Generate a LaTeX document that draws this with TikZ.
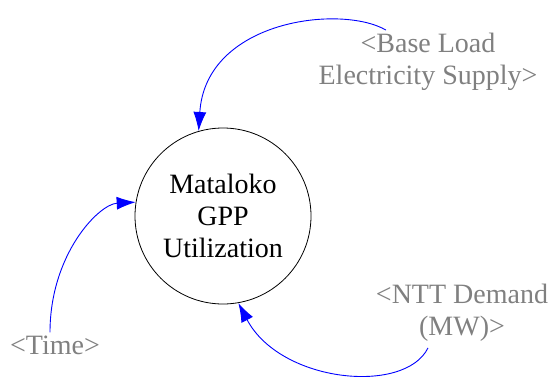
\documentclass[tikz,border=0pt]{standalone}
\usepackage{fontspec}
\setmainfont{Liberation Serif}
\usetikzlibrary{arrows.meta}
\definecolor{shadowgray}{RGB}{128,128,128}
\begin{document}
\begin{tikzpicture}[x=1pt,y=-1pt,
    stock/.style={draw,circle,line width=0.8pt,minimum size=176pt,inner sep=0pt,align=center},
    shadow/.style={text=shadowgray,align=center,inner sep=0pt},
    link/.style={blue,line width=0.9pt,-{Latex[length=19pt,width=13pt]}},
    font=\fontsize{28}{32}\selectfont]
    \useasboundingbox (0,0) rectangle (548,380);
    \node[stock] (util) at (223,216) {Mataloko\\GPP\\Utilization};
    \node[shadow] (base) at (428,62) {<Base Load\\Electricity Supply>};
    \node[shadow] (time) at (55,345) {<Time>};
    \node[shadow] (ntt) at (462,313) {<NTT Demand\\(MW)>};
    \draw[link] ([xshift=-42pt,yshift=3pt]base.north)
        .. controls +(-45,-26) and +(7,-111) .. (util.106);
    \draw[link] ([xshift=-5pt,yshift=3pt]time.north)
        .. controls +(0,-78) and +(-37,2) .. (util.171);
    \draw[link] ([xshift=-34pt,yshift=-6pt]ntt.south)
        .. controls +(-23,47) and +(42,80) .. (util.280);
\end{tikzpicture}
\end{document}
